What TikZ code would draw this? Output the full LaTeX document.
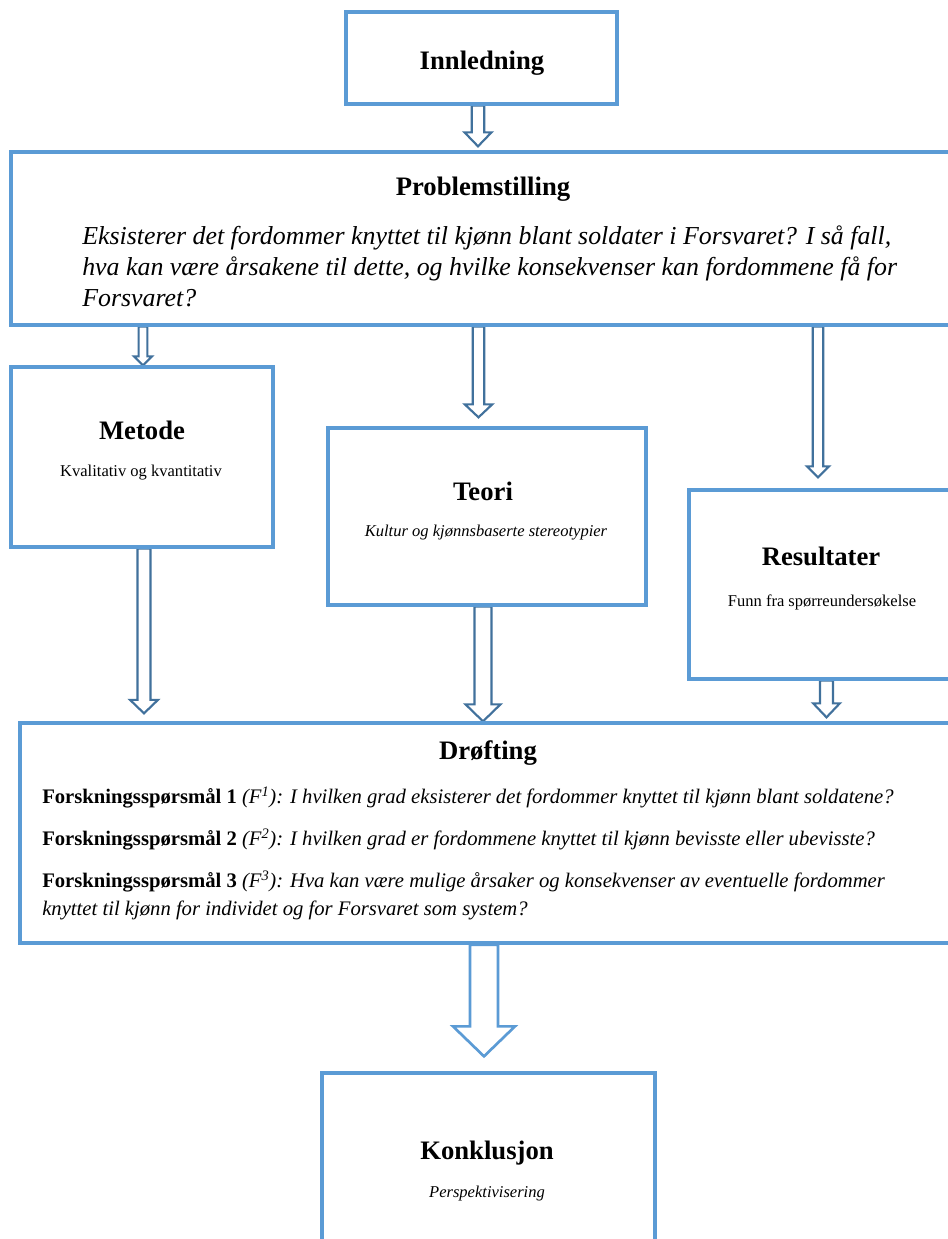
\documentclass[tikz,border=0pt]{standalone}
\usepackage{fontspec}
\setmainfont{Liberation Serif}
\usetikzlibrary{calc,backgrounds}
\definecolor{boxblue}{HTML}{5B9BD5}
\definecolor{arrowblue}{HTML}{41719C}
% hollow block arrow: [style]{from node anchor}{tip}{shaft half}{head half}{head length}
\newcommand{\hollowarrow}[6][]{%
  \path (#3) coordinate (ha-to) (ha-to |- #2) coordinate (ha-from);
  \draw[hollow,#1] ($(ha-from)+(-#4,0)$) -- ($(ha-to)+(-#4,-#6)$)
    -- ($(ha-to)+(-#5,-#6)$) -- (ha-to) -- ($(ha-to)+(#5,-#6)$)
    -- ($(ha-to)+(#4,-#6)$) -- ($(ha-from)+(#4,0)$) -- cycle;}
\begin{document}
\begin{tikzpicture}[x=0.75pt, y=-0.75pt,
  box/.style={draw=boxblue, line width=2.5pt, fill=white, inner sep=0pt},
  title/.style={font=\fontsize{20}{24}\selectfont\bfseries, inner sep=0pt},
  sub/.style={font=\fontsize{12.4}{15}\selectfont, inner sep=0pt},
  question/.style={font=\fontsize{19.4}{23.25}\selectfont\itshape, align=left, inner sep=0pt},
  body/.style={font=\fontsize{15.5}{20.5}\selectfont, align=left, inner sep=0pt},
  hollow/.style={draw=arrowblue, line width=1.6pt, fill=white, line join=miter}]
  \useasboundingbox (0,0) rectangle (948,1239);
  \clip (0,0) rectangle (948,1239);

  % boxes
  \node[box, minimum width=203.25pt, minimum height=69pt] (inn) at (481.5,58) {};
  \node[box, minimum width=734.25pt, minimum height=129.75pt] (prob) at (500.5,238.5) {};
  \node[box, minimum width=196.5pt, minimum height=135pt] (metode) at (142,457) {};
  \node[box, minimum width=238.5pt, minimum height=132.75pt] (teori) at (487,516.5) {};
  \node[box, minimum width=203.25pt, minimum height=141.75pt] (res) at (824.5,584.5) {};
  \node[box, minimum width=727.5pt, minimum height=165pt] (drofting) at (505,833) {};
  \node[box, minimum width=249.75pt, minimum height=144pt] (konk) at (488.5,1169) {};

  % texts
  \node[title, anchor=base] (inn-t) at (482,69) {Innledning};
  \node[title, anchor=base] (prob-t) at (483,195) {Problemstilling};
  \node[question, anchor=north west] (prob-q) at (82,226)
    {Eksisterer det fordommer knyttet til kjønn blant soldater i Forsvaret? I så fall,\\
     hva kan være årsakene til dette, og hvilke konsekvenser kan fordommene få for\\
     Forsvaret?};
  \node[title, anchor=base] (metode-t) at (142,439) {Metode};
  \node[sub, anchor=base] (metode-s) at (141,476) {Kvalitativ og kvantitativ};
  \node[title, anchor=base] (teori-t) at (483,500) {Teori};
  \node[sub, anchor=base, font=\fontsize{12.4}{15}\selectfont\itshape] (teori-s) at (486,536)
    {Kultur og kjønnsbaserte stereotypier};
  \node[title, anchor=base] (res-t) at (821,565) {Resultater};
  \node[sub, anchor=base] (res-s) at (822,606) {Funn fra spørreundersøkelse};
  \node[title, anchor=base] (drofting-t) at (488,759) {Drøfting};
  \node[body, anchor=north west] (drofting-q) at (42,787)
    {\textbf{Forskningsspørsmål 1} \textit{(F\textsuperscript{1}): I hvilken grad eksisterer det fordommer knyttet til kjønn blant soldatene?}\\[11pt]
     \textbf{Forskningsspørsmål 2} \textit{(F\textsuperscript{2}): I hvilken grad er fordommene knyttet til kjønn bevisste eller ubevisste?}\\[11pt]
     \textbf{Forskningsspørsmål 3} \textit{(F\textsuperscript{3}): Hva kan være mulige årsaker og konsekvenser av eventuelle fordommer}\\
     \textit{knyttet til kjønn for individet og for Forsvaret som system?}};
  \node[title, anchor=base] (konk-t) at (487,1159) {Konklusjon};
  \node[sub, anchor=base, font=\fontsize{12.4}{15}\selectfont\itshape] (konk-s) at (487,1197)
    {Perspektivisering};

  % arrows
  \begin{scope}[on background layer]
    \fill[white] (0,0) rectangle (948,1239);
    \hollowarrow{inn.south}{$(inn.south |- prob.north)+(-3.5,-4)$}{6.3}{13.5}{14}
    \hollowarrow{prob.south}{$(metode.north)+(1,0)$}{4.4}{9}{9}
    \hollowarrow{prob.south}{$(teori.north)+(-8.5,-9)$}{5.8}{13.8}{13}
    \hollowarrow{prob.south}{$(res.north)+(-6.5,-11)$}{5.3}{11}{11}
    \hollowarrow{metode.south}{$(metode.south |- drofting.north)+(2,-8)$}{6.5}{14}{13.5}
    \hollowarrow{teori.south}{$(teori.south |- drofting.north)+(-4,0)$}{8.5}{17.5}{17}
    \hollowarrow{res.south}{$(res.south |- drofting.north)+(2,-4)$}{6.5}{13.3}{14}
    \hollowarrow[draw=boxblue, line width=2pt]{drofting.south}{$(konk.north)+(-4.5,-15)$}{14}{31}{30}
  \end{scope}
\end{tikzpicture}
\end{document}
